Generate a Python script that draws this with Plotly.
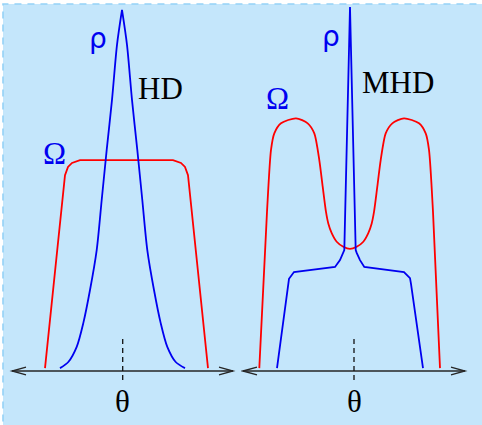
import plotly.graph_objects as go

# ---------------- data (theta units, normalized profile values) ----------------
hd_rho_theta = [-0.62, -0.537, -0.453, -0.387, -0.32, -0.253, -0.203, -0.153, -0.10, -0.05, 0.0,
                0.05, 0.10, 0.153, 0.203, 0.253, 0.32, 0.387, 0.453, 0.537, 0.63]
hd_rho_value = [0.008, 0.025, 0.067, 0.133, 0.225, 0.336, 0.475, 0.614, 0.753, 0.906, 1.003,
                0.906, 0.753, 0.614, 0.475, 0.336, 0.225, 0.133, 0.067, 0.025, 0.008]

hd_omega_theta = [-0.77, -0.57, -0.54, -0.50, -0.42, 0.51, 0.59, 0.63, 0.66, 0.86]
hd_omega_value = [0.008, 0.544, 0.567, 0.578, 0.586, 0.586, 0.578, 0.567, 0.544, 0.008]

mhd_rho_theta = [-0.73, -0.62, -0.61, -0.56, -0.15, -0.10, -0.067, -0.057, 0.0,
                 0.057, 0.067, 0.10, 0.143, 0.54, 0.60, 0.61, 0.73]
mhd_rho_value = [0.008, 0.242, 0.256, 0.275, 0.289, 0.308, 0.328, 0.336, 1.011,
                 0.336, 0.328, 0.308, 0.289, 0.275, 0.258, 0.242, 0.008]

mhd_omega_theta = [-0.907, -0.83, -0.79, -0.757, -0.69, -0.54, -0.423, -0.357, -0.307, -0.273,
                   -0.24, -0.217, -0.183, -0.133, -0.067, 0.0, 0.067, 0.133, 0.183, 0.217,
                   0.24, 0.273, 0.307, 0.357, 0.423, 0.54, 0.69, 0.757, 0.79, 0.83, 0.90]
mhd_omega_value = [0.008, 0.442, 0.614, 0.660, 0.688, 0.702, 0.688, 0.660, 0.586, 0.512,
                   0.442, 0.410, 0.383, 0.359, 0.345, 0.339, 0.345, 0.359, 0.383, 0.410,
                   0.442, 0.512, 0.586, 0.660, 0.688, 0.702, 0.688, 0.660, 0.614, 0.442, 0.008]

panel_titles = ["HD", "MHD"]
axis_extent = [[-1.10, 1.11], [-1.07, 1.15]]   # theta axis arrow extents per panel
tick_theta = [0.007, 0.04]                        # dashed centre mark per panel
axis_label = "θ"

BLUE = "#0000f0"
RED = "#ff0000"
BG = "#c4e6fb"

fig = go.Figure()

peak = hd_rho_value.index(max(hd_rho_value))
fig.add_trace(go.Scatter(x=hd_omega_theta, y=hd_omega_value, mode="lines",
                         line=dict(color=RED, width=1.8), xaxis="x", yaxis="y"))
# rho (HD): two smooth flanks meeting in a sharp peak
fig.add_trace(go.Scatter(x=hd_rho_theta[:peak + 1], y=hd_rho_value[:peak + 1], mode="lines",
                         line=dict(color=BLUE, width=1.8, shape="spline", smoothing=0.8),
                         xaxis="x", yaxis="y"))
fig.add_trace(go.Scatter(x=hd_rho_theta[peak:], y=hd_rho_value[peak:], mode="lines",
                         line=dict(color=BLUE, width=1.8, shape="spline", smoothing=0.8),
                         xaxis="x", yaxis="y"))
fig.add_trace(go.Scatter(x=mhd_omega_theta, y=mhd_omega_value, mode="lines",
                         line=dict(color=RED, width=1.8, shape="spline", smoothing=0.7),
                         xaxis="x2", yaxis="y2"))
fig.add_trace(go.Scatter(x=mhd_rho_theta, y=mhd_rho_value, mode="lines",
                         line=dict(color=BLUE, width=1.8), xaxis="x2", yaxis="y2"))

shapes = []
# background panel with dashed border (top/left visible)
shapes.append(dict(type="rect", xref="paper", yref="paper",
                   x0=3 / 482, x1=1.05, y0=-0.05, y1=(425 - 4) / 425,
                   fillcolor=BG, line=dict(color="#94d2f7", width=1.6, dash="7px,6px"),
                   layer="below"))

AX = "#262626"
for i, (ext, tk) in enumerate(zip(axis_extent, tick_theta)):
    xr = "x" if i == 0 else "x2"
    yr = "y" if i == 0 else "y2"
    a, b = ext
    shapes.append(dict(type="line", xref=xr, yref=yr, x0=a, x1=b, y0=0, y1=0,
                       line=dict(color=AX, width=1.3)))
    # open chevron arrow heads
    dx, dy = 0.14, 0.0105
    shapes.append(dict(type="path", xref=xr, yref=yr,
                       path=f"M {b-dx},{dy} L {b},0 L {b-dx},{-dy}",
                       line=dict(color=AX, width=1.3)))
    shapes.append(dict(type="path", xref=xr, yref=yr,
                       path=f"M {a+dx},{dy} L {a},0 L {a+dx},{-dy}",
                       line=dict(color=AX, width=1.3)))
    shapes.append(dict(type="line", xref=xr, yref=yr, x0=tk, x1=tk, y0=0.089, y1=-0.036,
                       line=dict(color="#111111", width=1.3, dash="5px,4px")))

annotations = []
serif = "Liberation Serif"
def ann(text, x, y, xr, yr, size, color, family):
    annotations.append(dict(text=text, x=x, y=y, xref=xr, yref=yr, showarrow=False,
                            xanchor="center", yanchor="middle",
                            font=dict(size=size, color=color, family=family)))

# HD panel labels
ann("ρ", -0.24, 0.925, "x", "y", 28, BLUE, "DejaVu Sans")
ann(panel_titles[0], 0.385, 0.786, "x", "y", 31, "black", serif)
ann("Ω", -0.68, 0.603, "x", "y", 31, BLUE, serif)
ann(axis_label, tick_theta[0], -0.085, "x", "y", 31, "black", serif)
# MHD panel labels
ann("ρ", -0.195, 0.928, "x2", "y2", 28, BLUE, "DejaVu Sans")
ann(panel_titles[1], 0.48, 0.802, "x2", "y2", 31, "black", serif)
ann("Ω", -0.725, 0.758, "x2", "y2", 31, BLUE, serif)
ann(axis_label, tick_theta[1], -0.085, "x2", "y2", 31, "black", serif)

yrange = [-54 / 360, 371 / 360]
fig.update_layout(
    width=482, height=425, margin=dict(l=0, r=0, t=0, b=0),
    paper_bgcolor="white", plot_bgcolor="rgba(0,0,0,0)",
    showlegend=False,
    xaxis=dict(domain=[0, 0.5], range=[-1.22, 1.19], visible=False, fixedrange=True),
    xaxis2=dict(domain=[0.5, 1], range=[-1.09, 1.32], visible=False, fixedrange=True),
    yaxis=dict(domain=[0, 1], range=yrange, visible=False, anchor="x"),
    yaxis2=dict(domain=[0, 1], range=yrange, visible=False, anchor="x2"),
    shapes=shapes, annotations=annotations,
)

fig.write_html("out.html", config={"displayModeBar": False},
               post_script="document.body.style.margin='0px';document.body.style.overflow='hidden';")
